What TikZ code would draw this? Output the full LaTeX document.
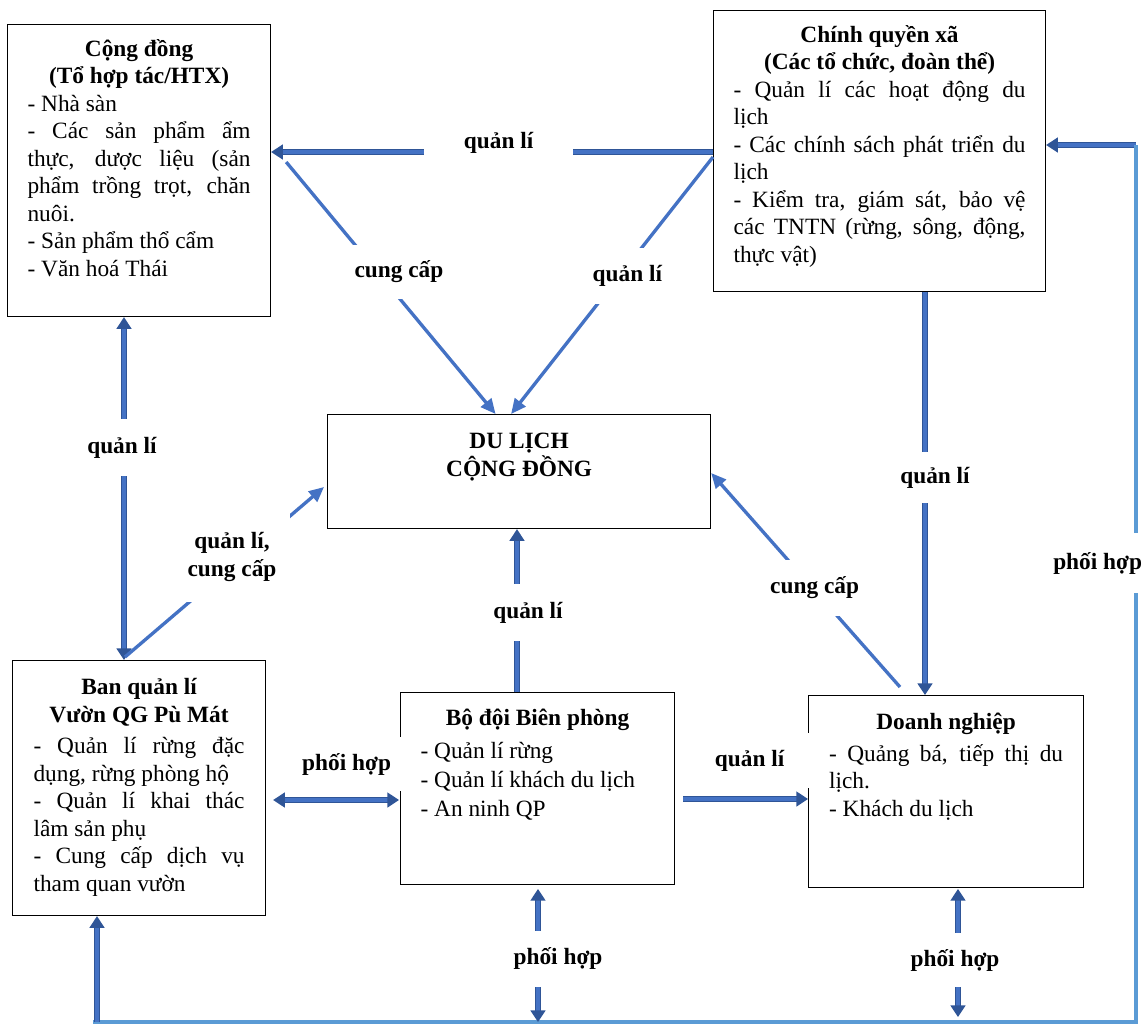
\documentclass[tikz,border=0pt]{standalone}
\usepackage{fontspec}
\setmainfont{Liberation Serif}
\usetikzlibrary{arrows.meta, calc, positioning}
\definecolor{arrblue}{HTML}{4472C4}
\definecolor{arrdark}{HTML}{2F5597}
\definecolor{coopblue}{HTML}{5B9BD5}
\newcommand{\BoxBody}[3]{\parbox[t][#2][t]{#1}{\hyphenpenalty=10000 \exhyphenpenalty=10000 #3}}
\newcommand{\Head}[1][19pt]{\rule{0pt}{#1}}
\tikzset{
    box/.style={draw, line width=0.7pt, anchor=north west, inner ysep=0pt, inner xsep=12pt,
        font=\fontsize{14}{16.5}\selectfont},
    lbl/.style={fill=white, text=black, inner sep=1pt, align=center, font=\fontsize{14}{16.5}\selectfont\bfseries},
    flow/.style={arrblue, line width=2pt, -{Triangle[length=9pt, width=8pt]}},
    mgmt/.style={draw=arrdark, double=arrblue, double distance=2.2pt, line width=0.9pt,
        -{Triangle[length=7pt, width=9pt]}},
    mgmtboth/.style={mgmt, {Triangle[length=7pt, width=9pt]}-{Triangle[length=7pt, width=9pt]}},
    coop/.style={coopblue, line width=2pt},
}
\begin{document}
\begin{tikzpicture}[x=0.6pt, y=-0.6pt]
    \useasboundingbox (0,0) rectangle (1146,1026);

    % boxes
    \node[box] (cd) at (7,24) {\BoxBody{133.8pt}{175.2pt}{%
        {\centering\bfseries \Head Cộng đồng\\(Tổ hợp tác/HTX)\par}
        - Nhà sàn\par
        - Các sản phẩm ẩm\linebreak thực, dược liệu (sản\linebreak phẩm trồng trọt, chăn\linebreak nuôi.\par
        - Sản phẩm thổ cẩm\par
        - Văn hoá Thái}};
    \node[box] (cq) at (713,10) {\BoxBody{175.2pt}{168.6pt}{%
        {\centering\bfseries \Head Chính quyền xã\\(Các tổ chức, đoàn thể)\par}
        - Quản lí các hoạt động du\linebreak lịch\par
        - Các chính sách phát triển du\linebreak lịch\par
        - Kiểm tra, giám sát, bảo vệ\linebreak các TNTN (rừng, sông, động,\linebreak thực vật)}};
    \node[box] (du) at (327,414) {\BoxBody{205.8pt}{68.4pt}{%
        \centering\bfseries \Head[20.5pt]DU LỊCH\\CỘNG ĐỒNG}};
    \node[box, inner xsep=12.6pt] (bq) at (12,660) {\BoxBody{126.6pt}{153pt}{%
        {\centering\bfseries \Head[20.5pt]Ban quản lí\\Vườn QG Pù Mát\par}
        \vspace{2.5pt}
        - Quản lí rừng đặc\linebreak dụng, rừng phòng hộ\par
        - Quản lí khai thác\linebreak lâm sản phụ\par
        - Cung cấp dịch vụ\linebreak tham quan vườn}};
    \node[box] (bd) at (400,692) {\BoxBody{140.4pt}{115.2pt}{%
        {\centering\bfseries \Head[20pt]Bộ đội Biên phòng\par}
        \vspace{2pt}
        {\fontsize{14}{17.4}\selectfont
        - Quản lí rừng\par
        - Quản lí khách du lịch\par
        - An ninh QP\par}}};
    \node[box, inner xsep=12.3pt] (dn) at (808,695) {\BoxBody{140.4pt}{115.2pt}{%
        {\centering\bfseries \Head[20.5pt]Doanh nghiệp\par}
        \vspace{2.5pt}
        - Quảng bá, tiếp thị du\linebreak lịch.\par
        - Khách du lịch}};

    % free ends
    \coordinate (bl) at (93,1022);
    \coordinate (br) at (1136,1022);
    \coordinate (tr) at (1136,145);
    \coordinate (bqb) at (97,1022);
    \coordinate (bds) at (538,889);
    \coordinate (bdb) at (538,1022);
    \coordinate (dns) at (958,889);
    \coordinate (dnb) at (958,1017);

    % connectors
    \draw[mgmt] ($(cq.north west)+(0,142)$) -- node[lbl, xshift=3.9pt, yshift=5.4pt, minimum width=89pt, minimum height=24pt] (l1) {quản lí} ($(cd.north east)+(0,128)$);
    \draw[flow] ($(cq.north west)+(0,147)$) -- node[lbl, pos=0.463, xshift=4.7pt, minimum width=50pt, minimum height=33.6pt] (l2) {quản lí} ($(du.north)+(-8,0)$);
    \draw[flow] ($(cd.north east)+(15,138)$) -- node[lbl, pos=0.4365, xshift=12.8pt, minimum width=60pt, minimum height=32pt] (l3) {cung cấp} ($(du.north)+(-23.5,0)$);
    \draw[mgmtboth] ($(bq.north west)+(112,0)$) -- node[lbl, pos=0.619, xshift=-1.2pt, minimum height=34pt] (l4) {quản lí} ($(cd.south west)+(117,0)$);
    \draw[flow] ($(bq.north west)+(113,-3)$) -- node[lbl, pos=0.588, xshift=-6pt, minimum width=69pt, minimum height=54pt] (l5) {quản lí,\\cung cấp} ($(du.north west)+(-3,73)$);
    \draw[mgmt] ($(bd.north west)+(117,0)$) -- node[lbl, pos=0.488, xshift=6.6pt, minimum height=34pt] (l6) {quản lí} ($(du.south west)+(190,0)$);
    \draw[mgmt] ($(cq.south west)+(212,0)$) -- node[lbl, pos=0.46, xshift=6pt, minimum height=31pt] (l7) {quản lí} ($(dn.north west)+(117,0)$);
    \draw[flow] ($(dn.north west)+(92,-8)$) -- node[lbl, pos=0.4626, xshift=1.2pt, minimum width=60pt, minimum height=34pt] (l8) {cung cấp} ($(du.north east)+(0,59)$);
    \draw[mgmtboth] ($(bq.north east)+(7,140)$) -- node[lbl, xshift=6.3pt, yshift=21.6pt, minimum width=67pt, minimum height=32.4pt] (l9) {phối hợp} ($(bd.north west)+(-1,108)$);
    \draw[mgmt] ($(bd.north east)+(8,107)$) -- node[lbl, xshift=2.4pt, yshift=23.1pt, minimum width=75.6pt, minimum height=33pt] (l10) {quản lí} ($(dn.north west)+(0,104)$);

    % phoi hop lines at the bottom and right
    \draw[mgmt] (tr) -- ($(cq.north east)+(0,135)$);
    \draw[coop] (bl) -- (br) -- node[lbl, pos=0.523, xshift=-23pt, minimum width=52pt, minimum height=36pt] (l11) {phối hợp} (tr);
    \draw[mgmt] (bqb) -- ($(bq.south west)+(85,0)$);
    \draw[mgmtboth] (bds) -- node[lbl, pos=0.526, xshift=12pt, minimum height=33.6pt] (l12) {phối hợp} (bdb);
    \draw[mgmtboth] (dns) -- node[lbl, pos=0.555, xshift=-1.8pt, minimum height=32.4pt] (l13) {phối hợp} (dnb);
\end{tikzpicture}
\end{document}
